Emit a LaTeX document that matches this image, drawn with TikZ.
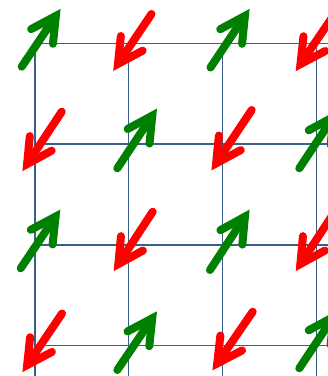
\documentclass[tikz,border=0pt]{standalone}
\usetikzlibrary{calc}
\definecolor{gridblue}{RGB}{58,95,138}
\definecolor{arrgreen}{RGB}{0,128,0}
\definecolor{arrred}{RGB}{255,0,0}
\tikzset{
  gridline/.style={draw=gridblue,line width=1.4pt},
  fatarrow/.style={line width=8pt,line cap=round,line join=miter},
  uparrow/.style={fatarrow,draw=arrgreen},
  downarrow/.style={fatarrow,draw=arrred},
}
\newcommand\fatarr[4]{%
  \coordinate (#4t) at #2;
  \coordinate (#4p) at #3;
  \coordinate (#4a) at ($(#4p)!8pt!(#4t)$);
  \draw[#1] (#4t) -- (#4a);
  \draw[#1] ($(#4a)!28pt!28:(#4t)$) -- (#4a) -- ($(#4a)!28pt!-28:(#4t)$);
}
\begin{document}
\begin{tikzpicture}[x=1pt,y=-1pt]
\useasboundingbox (0,0) rectangle (328,376);
\clip (0,0) rectangle (328,376);
% grid
\foreach \x [count=\i] in {35,128.7,222.7,316.7} {
  \coordinate (vt\i) at (\x,43.3);
  \coordinate (vb\i) at (\x,380);
  \draw[gridline] (vt\i) -- (vb\i);
}
\foreach \y [count=\j] in {43.3,144,245,345.7} {
  \coordinate (hl\j) at (35,\y);
  \coordinate (hr\j) at (332,\y);
  \draw[gridline] (hl\j) -- (hr\j);
}
% row 0
\fatarr{uparrow}{(21.7,66.7)}{(60.3,9.3)}{a00}
\fatarr{downarrow}{(151.5,14)}{(113.5,70.5)}{a01}
\fatarr{uparrow}{(210.5,67.5)}{(249.3,9.3)}{a02}
\fatarr{downarrow}{(334,14.7)}{(296,70.7)}{a03}
% row 1
\fatarr{downarrow}{(61.7,111.7)}{(22.7,170.7)}{a10}
\fatarr{uparrow}{(117.3,168.3)}{(156.7,109)}{a11}
\fatarr{downarrow}{(251.7,110)}{(211.7,170)}{a12}
\fatarr{uparrow}{(299.3,168.3)}{(337.8,110.3)}{a13}
% row 2
\fatarr{uparrow}{(20.7,268.3)}{(60,210)}{a20}
\fatarr{downarrow}{(152.7,211.7)}{(114,270.7)}{a21}
\fatarr{uparrow}{(210,270)}{(249.3,210)}{a22}
\fatarr{downarrow}{(334.5,212)}{(296,270.7)}{a23}
% row 3
\fatarr{downarrow}{(62,313.5)}{(22.7,371.7)}{a30}
\fatarr{uparrow}{(117.3,370)}{(156.7,311.7)}{a31}
\fatarr{downarrow}{(252.7,311.7)}{(212.7,370)}{a32}
\fatarr{uparrow}{(299.3,368.3)}{(337.8,310.3)}{a33}
\end{tikzpicture}
\end{document}
